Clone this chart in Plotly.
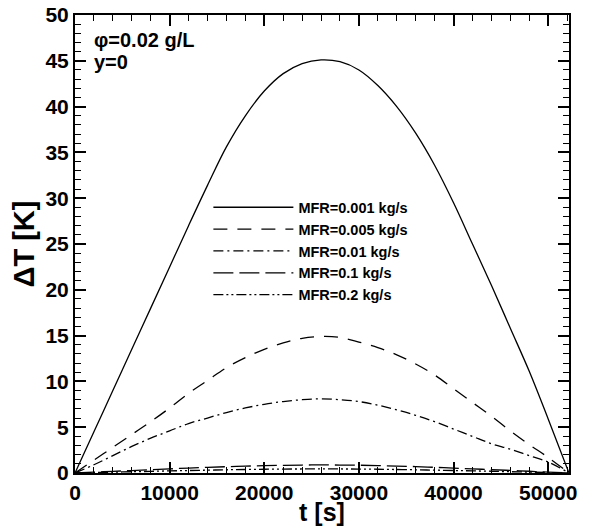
import plotly.graph_objects as go

t = [0, 2000, 4000, 6000, 8000, 10000, 12000, 14000, 16000, 18000, 20000, 22000, 24000,
     26000, 28000, 30000, 32000, 34000, 36000, 38000, 40000, 42000, 44000, 46000, 48000,
     50000, 52200]

dT_0001 = [0, 4.5, 9.0, 13.5, 18.0, 22.5, 27.0, 31.4, 35.6, 39.0, 41.7, 43.6, 44.7,
           45.1, 44.9, 44.0, 42.3, 40.0, 37.1, 33.6, 29.5, 25.0, 20.5, 15.8, 11.1,
           5.9, 0]
dT_0005 = [0, 1.4, 2.8, 4.2, 5.6, 7.1, 8.7, 10.1, 11.5, 12.6, 13.5, 14.2, 14.7,
           14.9, 14.8, 14.3, 13.7, 12.9, 11.9, 10.7, 9.2, 7.7, 6.2, 4.6, 3.1,
           1.7, 0]
dT_001 = [0, 0.9, 1.9, 2.9, 3.8, 4.6, 5.4, 6.0, 6.6, 7.1, 7.5, 7.8, 8.0,
          8.1, 8.0, 7.8, 7.4, 6.9, 6.3, 5.6, 4.8, 4.0, 3.2, 2.6, 1.9,
          1.2, 0]
dT_01 = [0, 0.09, 0.18, 0.27, 0.36, 0.45, 0.54, 0.62, 0.69, 0.75, 0.80, 0.84, 0.87,
         0.88, 0.87, 0.85, 0.81, 0.76, 0.70, 0.62, 0.54, 0.45, 0.37, 0.28, 0.19,
         0.10, 0]
dT_02 = [0, 0.05, 0.09, 0.14, 0.18, 0.23, 0.27, 0.31, 0.35, 0.38, 0.41, 0.43, 0.44,
         0.45, 0.44, 0.43, 0.41, 0.38, 0.35, 0.31, 0.27, 0.23, 0.19, 0.14, 0.10,
         0.05, 0]

names = ["MFR=0.001 kg/s", "MFR=0.005 kg/s", "MFR=0.01 kg/s", "MFR=0.1 kg/s", "MFR=0.2 kg/s"]
series = [dT_0001, dT_0005, dT_001, dT_01, dT_02]
dashes = ["solid", "14px,10px", "10px,4px,2px,4px", "20px,6px", "10px,3px,2px,3px,2px,3px"]

x_ticks = [0, 10000, 20000, 30000, 40000, 50000]
y_ticks = [0, 5, 10, 15, 20, 25, 30, 35, 40, 45, 50]

FONT = "Liberation Sans"

fig = go.Figure()
for name, y, d in zip(names, series, dashes):
    fig.add_trace(go.Scatter(x=t, y=y, mode="lines", name=name,
                             line=dict(color="black", width=1.3, dash=d, shape="spline")))

axis_common = dict(
    showgrid=False, zeroline=False, showline=True, linecolor="black", linewidth=2,
    mirror="allticks", ticks="inside", ticklen=11, tickwidth=2, tickcolor="black",
    tickfont=dict(family=FONT, size=21, color="black", weight="bold"),
    automargin=False,
)

fig.update_xaxes(range=[0, 52200], tickvals=x_ticks,
                 ticktext=["<b>%d</b>" % v for v in x_ticks],
                 minor=dict(dtick=2000, tick0=0, ticks="inside", ticklen=6, tickwidth=1, tickcolor="black"),
                 title=dict(text="<b>t [s]</b>", font=dict(family=FONT, size=25, color="black"),
                            standoff=3),
                 **axis_common)
fig.update_yaxes(range=[0, 50], tickvals=y_ticks,
                 ticktext=["<b>%d</b>" % v for v in y_ticks],
                 minor=dict(dtick=1, tick0=0, ticks="inside", ticklen=6, tickwidth=1, tickcolor="black"),
                 title=dict(text="<b>ΔT [K]</b>", font=dict(family=FONT, size=29, color="black"),
                            standoff=2),
                 **axis_common)

fig.add_annotation(x=0.034, y=0.945, xref="paper", yref="paper", xanchor="left", yanchor="middle",
                   text="<b>φ=0.02 g/L</b>", showarrow=False,
                   font=dict(family=FONT, size=20, color="black"))
fig.add_annotation(x=0.034, y=0.897, xref="paper", yref="paper", xanchor="left", yanchor="middle",
                   text="<b>y=0</b>", showarrow=False,
                   font=dict(family=FONT, size=20, color="black"))

fig.update_layout(
    width=593, height=526,
    margin=dict(l=75, r=24, t=15, b=53),
    plot_bgcolor="white", paper_bgcolor="white",
    showlegend=True,
    legend=dict(x=0.27, y=0.615, xanchor="left", yanchor="top",
                bgcolor="rgba(0,0,0,0)", itemwidth=80, tracegroupgap=0,
                font=dict(family=FONT, size=14.5, color="black", weight="bold")),
)

fig.write_html("out.html")
